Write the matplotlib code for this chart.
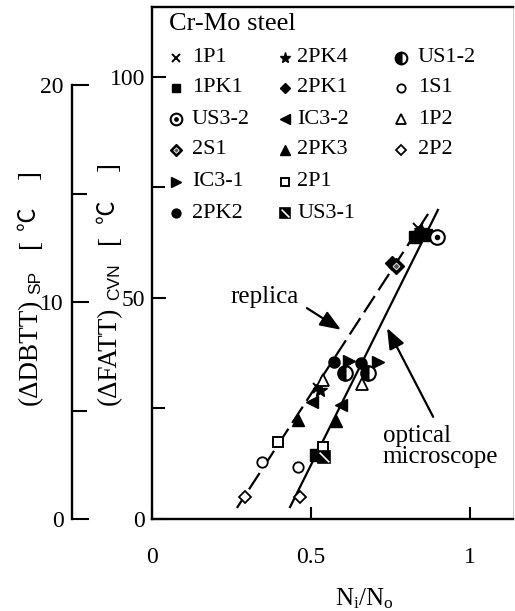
import matplotlib
matplotlib.use("Agg")
import matplotlib.pyplot as plt

plt.rcParams["font.family"] = ["Liberation Serif", "DejaVu Serif"]
plt.rcParams["mathtext.fontset"] = "custom"
plt.rcParams["mathtext.rm"] = "Liberation Serif"
plt.rcParams["mathtext.it"] = "Liberation Serif:italic"
plt.rcParams["mathtext.sf"] = "Liberation Sans"
plt.rcParams["lines.scale_dashes"] = False

# ---- data: N_i/N_o versus (dFATT)_CVN for each Cr-Mo steel ----
n_1P1, fatt_1P1 = [0.836, 0.522], [65.8, 29.6]
n_2PK4, fatt_2PK4 = [0.846, 0.528], [65.4, 29.2]
n_1PK1, fatt_1PK1 = [0.827, 0.862, 0.516], [63.8, 64.2, 14.5]
n_US32, fatt_US32 = [0.896], [63.8]
n_2PK1, fatt_2PK1 = [0.755], [57.9]
n_2S1, fatt_2S1 = [0.767], [57.2]
n_IC31, fatt_IC31 = [0.619, 0.711], [35.7, 35.5]
n_2PK2, fatt_2PK2 = [0.572, 0.657], [35.5, 35.3]
n_US12, fatt_US12 = [0.607, 0.679], [33.0, 33.0]
n_1P2, fatt_1P2 = [0.538, 0.660], [31.4, 30.5]
n_IC32, fatt_IC32 = [0.503, 0.594], [26.5, 25.8]
n_2PK3, fatt_2PK3 = [0.459, 0.579], [22.4, 22.2]
n_2P1, fatt_2P1 = [0.396, 0.538], [17.4, 16.3]
n_US31, fatt_US31 = [0.541], [14.0]
n_1S1, fatt_1S1 = [0.346, 0.459], [12.9, 11.8]
n_2P2, fatt_2P2 = [0.292, 0.465], [5.0, 5.0]

# regression lines
replica_n, replica_fatt = [0.267, 0.868], [2.5, 69.0]
optical_n, optical_fatt = [0.434, 0.899], [2.7, 69.9]

x_ticks = [0, 0.5, 1]
x_tick_labels = ["0", "0.5", "1"]
fatt_ticks = [0, 50, 100]
dbtt_ticks = [0, 10, 20]

legend_cols = [
    ["1P1", "1PK1", "US3-2", "2S1", "IC3-1", "2PK2"],
    ["2PK4", "2PK1", "IC3-2", "2PK3", "2P1", "US3-1"],
    ["US1-2", "1S1", "1P2", "2P2"],
]

series = {
    "1P1": (n_1P1, fatt_1P1),
    "2PK4": (n_2PK4, fatt_2PK4),
    "1PK1": (n_1PK1, fatt_1PK1),
    "US3-2": (n_US32, fatt_US32),
    "2PK1": (n_2PK1, fatt_2PK1),
    "2S1": (n_2S1, fatt_2S1),
    "IC3-1": (n_IC31, fatt_IC31),
    "2PK2": (n_2PK2, fatt_2PK2),
    "US1-2": (n_US12, fatt_US12),
    "1P2": (n_1P2, fatt_1P2),
    "IC3-2": (n_IC32, fatt_IC32),
    "2PK3": (n_2PK3, fatt_2PK3),
    "2P1": (n_2P1, fatt_2P1),
    "US3-1": (n_US31, fatt_US31),
    "1S1": (n_1S1, fatt_1S1),
    "2P2": (n_2P2, fatt_2P2),
}

K = "black"
W = "white"


def draw_symbol(ax, xs, ys, name, scale=1.0, **kw):
    """Draw the plotting symbol used for one steel."""
    s = scale
    common = dict(ls="none", clip_on=False, zorder=5, **kw)
    if name == "1P1":
        ax.plot(xs, ys, marker="x", ms=7 * s, mew=1.4, color=K, **common)
    elif name == "1PK1":
        ax.plot(xs, ys, marker="s", ms=8 * s, color=K, mec=K, **common)
    elif name == "US3-2":
        ax.plot(xs, ys, marker="o", ms=10.5 * s, mfc=W, mec=K, mew=1.5, **common)
        ax.plot(xs, ys, marker="o", ms=3.0 * s, mfc=K, mec=K, **common)
    elif name == "2S1":
        ax.plot(xs, ys, marker="D", ms=8 * s, mfc=K, mec=K, **common)
        ax.plot(xs, ys, marker="D", ms=3.5 * s, mfc="#555555", mec=W, mew=0.6, **common)
    elif name == "IC3-1":
        ax.plot(xs, ys, marker=">", ms=9 * s, color=K, **common)
    elif name == "2PK2":
        ax.plot(xs, ys, marker="o", ms=8 * s, color=K, **common)
    elif name == "2PK4":
        ax.plot(xs, ys, marker="*", ms=10 * s, color=K, **common)
    elif name == "2PK1":
        ax.plot(xs, ys, marker="D", ms=7 * s, color=K, **common)
    elif name == "IC3-2":
        ax.plot(xs, ys, marker="<", ms=9 * s, color=K, **common)
    elif name == "2PK3":
        ax.plot(xs, ys, marker="^", ms=9 * s, color=K, **common)
    elif name == "2P1":
        ax.plot(xs, ys, marker="s", ms=7.5 * s, mfc=W, mec=K, mew=1.4, **common)
    elif name == "US3-1":
        ax.plot(xs, ys, marker="s", ms=8.5 * s, mfc=K, mec=K, mew=1.2, **common)
        ax.plot(xs, ys, marker=[(-1, 1), (1, -1)], ms=7 * s, mfc="none", mec=W,
                mew=1.2, **common)
    elif name == "US1-2":
        ax.plot(xs, ys, marker="o", ms=10.5 * s, fillstyle="left", mfc=K,
                mfcalt=W, mec=K, mew=1.5, **common)
    elif name == "1S1":
        ax.plot(xs, ys, marker="o", ms=7.5 * s, mfc=W, mec=K, mew=1.3, **common)
    elif name == "1P2":
        ax.plot(xs, ys, marker="^", ms=9 * s, mfc=W, mec=K, mew=1.3, **common)
    elif name == "2P2":
        ax.plot(xs, ys, marker="D", ms=6.5 * s, mfc=W, mec=K, mew=1.3, **common)


W_PX, H_PX = 515, 611
fig = plt.figure(figsize=(W_PX / 100, H_PX / 100), dpi=100)

# main (dFATT)_CVN axes
L, R, B, T = 152, 513, 519, 7
ax = fig.add_axes([L / W_PX, (H_PX - B) / H_PX, (R - L) / W_PX, (B - T) / H_PX])
ax.set_xlim(0, 1.135)
ax.set_ylim(0, 115.8)

for side in ["left", "bottom", "top"]:
    ax.spines[side].set_linewidth(1.7)
ax.spines["right"].set_linewidth(0.6)
ax.spines["right"].set_color("#c8c8c8")

ax.set_xticks(x_ticks)
ax.set_xticklabels(x_tick_labels)
ax.set_yticks(fatt_ticks)
ax.set_yticks([25, 75], minor=True)
ax.tick_params(axis="x", direction="in", length=9, width=1.5, pad=20,
               labelsize=17, top=False)
ax.tick_params(axis="y", which="major", direction="in", length=10, width=1.5,
               pad=5, labelsize=17, right=False)
ax.tick_params(axis="y", which="minor", direction="in", length=9, width=1.5,
               right=False)

ax.set_xlabel(r"$\mathrm{N_i/N_o}$", fontsize=18)
ax.xaxis.set_label_coords((364 - L) / (R - L), (B - 586) / (B - T))

# regression lines
ax.plot(replica_n, replica_fatt, color=K, lw=1.6, ls=(3, (14, 5)), zorder=3)
ax.plot(optical_n, optical_fatt, color=K, lw=1.6, zorder=3)

# data symbols
for name, (xs, ys) in series.items():
    draw_symbol(ax, xs, ys, name)

# annotations
arrow = dict(arrowstyle="-|>,head_length=0.9,head_width=0.35", color=K, lw=1.6,
             shrinkA=0, shrinkB=0, mutation_scale=14)
ax.text(0.248, 50.2, "replica", fontsize=18, ha="left", va="center")
ax.annotate("", xy=(0.594, 42.8), xytext=(0.487, 47.7), arrowprops=arrow)
ax.annotate("", xy=(0.739, 43.2), xytext=(0.884, 23.1), arrowprops=arrow)
ax.text(0.726, 16.4, "optical\nmicroscope", fontsize=18, ha="left",
        va="center", linespacing=0.95, multialignment="left")


# legend drawn inside the frame
def ax_pt(px, py):
    return (px - L) / (R - L), (B - py) / (B - T)


tx, ty = ax_pt(169, 24)
ax.text(tx, ty, "Cr-Mo steel", transform=ax.transAxes, fontsize=19,
        ha="left", va="center")
row_y = [58, 88, 119, 150, 182, 213]
col_marker_x = [176, 285, 401]
col_label_x = [192, 297, 418]
for c, names in enumerate(legend_cols):
    for r, name in enumerate(names):
        mx, my = ax_pt(col_marker_x[c], row_y[r])
        draw_symbol(ax, [mx], [my], name, scale=0.8, transform=ax.transAxes)
        lx, ly = ax_pt(col_label_x[c], row_y[r])
        ax.text(lx, ly, name, transform=ax.transAxes, fontsize=16,
                ha="left", va="center")

# secondary (dDBTT)_SP scale
SX = 72
ax2 = fig.add_axes([SX / W_PX, (H_PX - B) / H_PX, 0.001, (B - T) / H_PX])
ax2.set_ylim(0, 20 * (B - T) / (B - 85))
ax2.set_xlim(0, 1)
ax2.patch.set_visible(False)
for side in ["right", "bottom", "top"]:
    ax2.spines[side].set_visible(False)
ax2.spines["left"].set_bounds(0, 20)
ax2.spines["left"].set_linewidth(1.7)
ax2.set_xticks([])
ax2.set_yticks(dbtt_ticks)
ax2.set_yticks([5, 15], minor=True)
ax2.tick_params(axis="y", which="major", direction="in", length=12, width=1.5,
                pad=6, labelsize=17)
ax2.tick_params(axis="y", which="minor", direction="in", length=11, width=1.5)

# vertical axis titles, built piece by piece so the subscript and the
# degree-Celsius sign can use their own fonts
SERIF = ["Liberation Serif", "Noto Sans CJK JP"]
SANS = ["Liberation Sans"]
CJK = ["Noto Sans CJK JP", "Liberation Serif"]


def vertical_title(x_base, pieces):
    for text, y_start, size, family, dx in pieces:
        fig.text((x_base + dx) / W_PX, (H_PX - y_start) / H_PX, text,
                 rotation=90, rotation_mode="anchor", ha="left",
                 va="baseline", fontsize=size, family=family)


vertical_title(37, [
    ("(ΔDBTT)", 405, 19.5, SERIF, 0),
    ("SP", 294, 12.5, SANS, 3),
    ("[", 248, 19.5, SERIF, 0),
    ("℃", 230, 17, CJK, -2),
    ("]", 180, 19.5, SERIF, 0),
])
vertical_title(116, [
    ("(ΔFATT)", 405, 19.5, SERIF, 0),
    ("CVN", 300, 12.5, SANS, 3),
    ("[", 244, 19.5, SERIF, 0),
    ("℃", 223, 17, CJK, -2),
    ("]", 172, 19.5, SERIF, 0),
])

fig.savefig("out.png", dpi=100)
